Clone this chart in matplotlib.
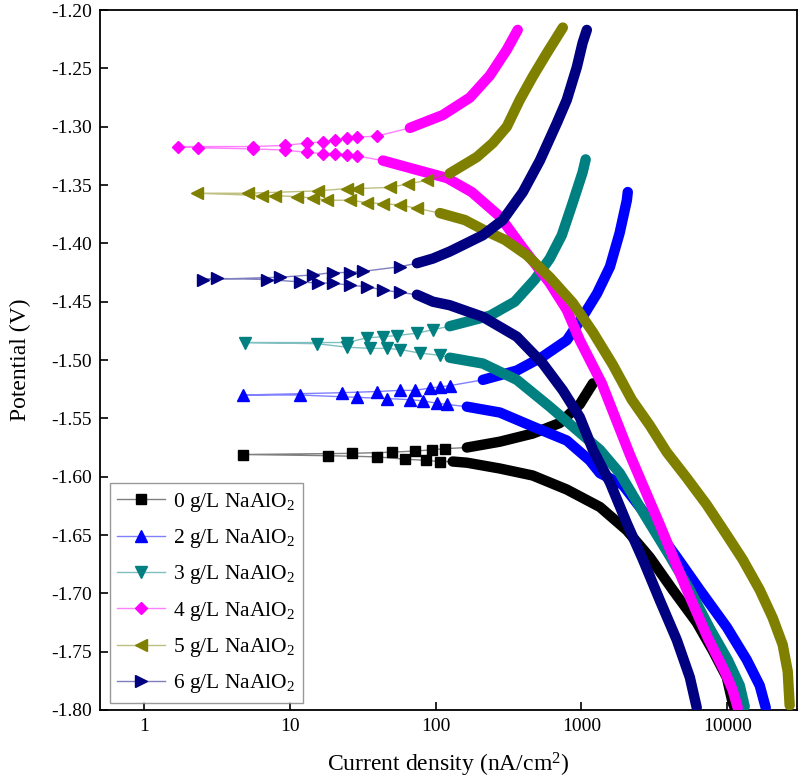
import numpy as np
import matplotlib
matplotlib.use("Agg")
import matplotlib.pyplot as plt
from matplotlib.lines import Line2D
from matplotlib.colors import to_rgba

plt.rcParams['font.family'] = ['Liberation Serif', 'DejaVu Serif']
plt.rcParams['mathtext.fontset'] = 'custom'
plt.rcParams['mathtext.rm'] = 'Liberation Serif'
plt.rcParams['mathtext.it'] = 'Liberation Serif:italic'
plt.rcParams['axes.unicode_minus'] = False

labels = ["0 g/L NaAlO$_2$", "2 g/L NaAlO$_2$", "3 g/L NaAlO$_2$",
          "4 g/L NaAlO$_2$", "5 g/L NaAlO$_2$", "6 g/L NaAlO$_2$"]

# current density (nA/cm2) and potential (V), in scan order (cathodic -> Ecorr -> anodic)
i_0 = [11250, 10900, 9930, 7960, 6180, 4230, 2940, 2050, 1340, 794, 464, 276, 164, 131, 107, 86, 61.5, 39.6, 18.3,
       4.8, 26.7, 50.2, 72.1, 94.4, 116, 164, 276, 464, 711, 975, 1200]
E_0 = [-1.798, -1.794, -1.772, -1.749, -1.725, -1.697, -1.669, -1.646, -1.626, -1.611, -1.599, -1.593, -1.588, -1.587,
       -1.587, -1.586, -1.585, -1.583, -1.582,
       -1.581, -1.580, -1.579, -1.578, -1.577, -1.576, -1.575, -1.570, -1.563, -1.554, -1.538, -1.520]

i_2 = [18370, 16700, 13610, 9930, 6480, 4510, 2940, 1920, 1340, 1140, 794, 464, 276, 164, 119, 102, 81.8, 66.7, 46.4,
       28.9, 11.7,
       4.78, 22.8, 39.6, 56.9, 72.1, 91.4, 107, 125, 211, 361, 544, 794, 1020, 1280, 1570, 1830, 2050, 2080]
E_2 = [-1.798, -1.779, -1.757, -1.729, -1.697, -1.669, -1.637, -1.607, -1.597, -1.586, -1.569, -1.557, -1.545, -1.540,
       -1.538, -1.537, -1.535, -1.534, -1.533, -1.532, -1.530,
       -1.530, -1.528, -1.527, -1.526, -1.526, -1.524, -1.523, -1.522, -1.517, -1.509, -1.497, -1.483, -1.463, -1.443,
       -1.420, -1.391, -1.363, -1.356]

i_3 = [13180, 12190, 10080, 7590, 5535, 4035, 2720, 1833, 1340, 930, 607, 361, 211, 125, 107, 78, 56.9, 46.4, 35.5,
       24.7, 15.4,
       4.93, 24.7, 33.8, 43.5, 54.3, 74.5, 95.9, 125, 236, 349, 479, 607, 734, 873, 1020, 1070]
E_3 = [-1.797, -1.779, -1.757, -1.730, -1.697, -1.668, -1.633, -1.597, -1.577, -1.560, -1.540, -1.517, -1.503, -1.498,
       -1.496, -1.494, -1.491, -1.490, -1.490, -1.489, -1.486,
       -1.485, -1.485, -1.481, -1.480, -1.479, -1.477, -1.474, -1.471, -1.462, -1.450, -1.431, -1.413, -1.393, -1.365,
       -1.339, -1.328]

i_4 = [11800, 10900, 9610, 7350, 5115, 3445, 2148, 1380, 975, 794, 607, 397, 276, 177, 120, 74.5, 43.5, 28.9, 24.7,
       20.4, 16.9, 13.1, 9.27, 5.6, 2.35,
       1.71, 5.6, 9.27, 13.1, 16.9, 20.4, 24.7, 28.9, 39.6, 66.7, 112, 172, 236, 308, 366]
E_4 = [-1.798, -1.783, -1.767, -1.738, -1.693, -1.641, -1.581, -1.520, -1.483, -1.457, -1.434, -1.404, -1.377, -1.356,
       -1.344, -1.337, -1.329, -1.325, -1.324, -1.323, -1.323, -1.322, -1.320, -1.319, -1.318,
       -1.317, -1.317, -1.316, -1.314, -1.313, -1.311, -1.310, -1.309, -1.308, -1.301, -1.290, -1.275, -1.256, -1.234,
       -1.217]

i_5 = [26800, 26000, 24000, 20500, 16700, 12770, 9930, 7230, 5275, 3850, 2943, 2215, 1641, 1197, 873, 607, 422, 299,
       218, 159, 107, 74.5, 56.9, 43.5, 33.8, 25.9, 18.0, 14.4, 11.2, 7.92, 6.45,
       2.31, 5.17, 15.6, 24.7, 28.9, 48.6, 64.6, 87.2, 125, 192, 247, 308, 378, 464, 579, 746]
E_5 = [-1.796, -1.767, -1.744, -1.721, -1.697, -1.671, -1.650, -1.624, -1.601, -1.579, -1.556, -1.534, -1.504, -1.476,
       -1.451, -1.429, -1.410, -1.397, -1.389, -1.380, -1.374, -1.370, -1.367, -1.366, -1.365, -1.363, -1.363, -1.361,
       -1.360, -1.359, -1.359,
       -1.357, -1.357, -1.355, -1.353, -1.353, -1.352, -1.349, -1.346, -1.340, -1.326, -1.314, -1.300, -1.277, -1.257,
       -1.237, -1.215]

i_6 = [6180, 5540, 4510, 3450, 2640, 2050, 1570, 1200, 975, 746, 544, 361, 211, 125, 95.9, 74.5, 56.9, 43.5, 33.8,
       25.9, 19.8, 15.6, 11.7, 6.98, 3.17,
       2.54, 8.57, 14.4, 19.8, 25.9, 31.7, 56.9, 74.5, 95.9, 125, 211, 289, 397, 519, 678, 794, 930, 1020, 1090]
E_6 = [-1.798, -1.772, -1.740, -1.706, -1.671, -1.640, -1.605, -1.577, -1.549, -1.526, -1.503, -1.480, -1.463, -1.453,
       -1.450, -1.444, -1.442, -1.440, -1.437, -1.436, -1.434, -1.434, -1.433, -1.431, -1.430,
       -1.431, -1.429, -1.427, -1.425, -1.425, -1.424, -1.420, -1.417, -1.413, -1.407, -1.393, -1.380, -1.356, -1.329,
       -1.297, -1.277, -1.249, -1.228, -1.217]

x_ticks = [1, 10, 100, 1000, 10000]
x_ticklabels = ["1", "10", "100", "1000", "10000"]
y_ticks = [-1.20, -1.25, -1.30, -1.35, -1.40, -1.45, -1.50, -1.55, -1.60, -1.65, -1.70, -1.75, -1.80]

series_i = [i_0, i_2, i_3, i_4, i_5, i_6]
series_E = [E_0, E_2, E_3, E_4, E_5, E_6]
colors = ['#000000', '#0000FF', '#008080', '#FF00FF', '#808000', '#000080']
markers = ['s', '^', 'v', 'D', '<', '>']
msizes = [6.5, 8, 8, 6.5, 8, 8]
dense_thr = [120, 150, 120, 40, 100, 60]

fig = plt.figure(figsize=(8.0, 7.82), dpi=100)
ax = fig.add_axes([0.125, 0.0921, 0.871, 0.895])

handles = []
for k in range(6):
    ii = np.array(series_i[k], dtype=float)
    EE = np.array(series_E[k], dtype=float)
    mask = ii >= dense_thr[k]
    light = to_rgba(colors[k], 0.5)
    ax.plot(ii, EE, '-', color=light, lw=1.0, zorder=2 + k)
    ax.plot(np.where(mask, ii, np.nan), EE, '-', color=colors[k], lw=7.5,
            solid_capstyle='round', solid_joinstyle='round', zorder=2 + k)
    ax.plot(ii[~mask], EE[~mask], linestyle='none', marker=markers[k], ms=msizes[k],
            mfc=colors[k], mec=colors[k], zorder=2 + k)
    handles.append(Line2D([], [], color=light, lw=1.0, marker=markers[k], ms=msizes[k],
                          mfc=colors[k], mec=colors[k]))

ax.set_xscale('log')
ax.set_xlim(0.5, 30000)
ax.set_ylim(-1.80, -1.20)
ax.set_xticks(x_ticks)
ax.set_xticklabels(x_ticklabels)
ax.minorticks_off()
ax.set_yticks(y_ticks)
ax.set_yticklabels([f"{v:.2f}" for v in y_ticks])
ax.tick_params(axis='both', direction='in', length=6, width=1.2, labelsize=14,
               top=False, right=False, pad=6)
for sp in ax.spines.values():
    sp.set_linewidth(1.3)

ax.set_xlabel("Current density (nA/cm$^2$)", fontsize=17, labelpad=11)
ax.set_ylabel("Potential (V)", fontsize=17, labelpad=14)

leg = ax.legend(handles, labels, loc='lower left', bbox_to_anchor=(0.014, 0.01),
                borderaxespad=0, fontsize=15.5, frameon=True, fancybox=False,
                edgecolor='#808080', labelspacing=0.62, handlelength=2.2,
                handletextpad=0.4, borderpad=0.35)
leg.get_frame().set_linewidth(1.0)

fig.savefig("out.png", dpi=100)
